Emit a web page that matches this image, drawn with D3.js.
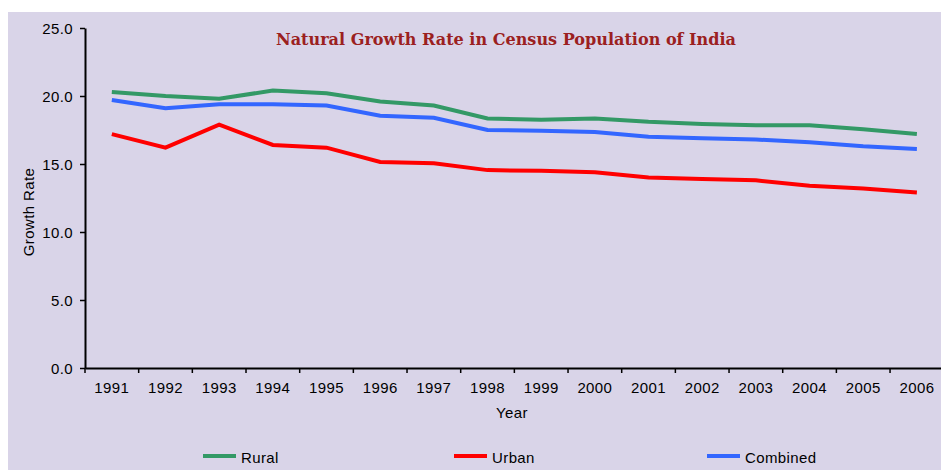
<!DOCTYPE html>
<html>
<head>
<meta charset="utf-8">
<script src="https://cdn.jsdelivr.net/npm/d3@7/dist/d3.min.js"></script>
<style>
html,body{margin:0;padding:0;background:#fff;overflow:hidden;}
svg{display:block;}
</style>
</head>
<body>
<svg id="chart" width="941" height="470"></svg>
<script>
const years = ["1991","1992","1993","1994","1995","1996","1997","1998","1999","2000","2001","2002","2003","2004","2005","2006"];
const rural = [20.3,20.0,19.8,20.4,20.2,19.6,19.3,18.35,18.25,18.35,18.1,17.95,17.85,17.85,17.55,17.2];
const urban = [17.2,16.2,17.9,16.4,16.2,15.15,15.05,14.55,14.5,14.4,14.0,13.9,13.8,13.4,13.2,12.9];
const combined = [19.7,19.1,19.4,19.4,19.3,18.55,18.4,17.5,17.45,17.35,17.0,16.9,16.8,16.6,16.3,16.1];
const yTicks = [0,5,10,15,20,25];
const seriesNames = ["Rural","Urban","Combined"];
const seriesColors = ["#339966","#ff0000","#3366ff"];

const svg = d3.select("#chart");
svg.append("rect").attr("x",8).attr("y",12).attr("width",941-8).attr("height",470-12).attr("fill","#d9d4e8");

const x0 = 85, step = 53.67;
const x = d3.scaleBand().domain(years).range([x0, x0 + step*years.length]).paddingInner(0).paddingOuter(0);
const y = d3.scaleLinear().domain([0,25]).range([368,28]);

const font = "Liberation Sans, Arial, sans-serif";
const fs = 15;
const ls = "0.4px";

// Y axis
const yAxis = svg.append("g").attr("transform",`translate(${x0},0)`)
  .call(d3.axisLeft(y).tickValues(yTicks).tickFormat(d3.format(".1f")).tickSize(5).tickSizeOuter(0));
yAxis.select(".domain").attr("stroke","#000").attr("stroke-width",2);
yAxis.selectAll(".tick line").attr("stroke","#000").attr("stroke-width",1.5);
yAxis.selectAll("text").attr("font-family",font).attr("font-size",fs).attr("letter-spacing",ls).attr("fill","#000").attr("x",-12).attr("dy","0.35em");

// X axis
const xAxis = svg.append("g").attr("transform","translate(0,368)")
  .call(d3.axisBottom(x).tickSize(0).tickSizeOuter(0));
xAxis.select(".domain").attr("stroke","#000").attr("stroke-width",2);
xAxis.selectAll("text").attr("font-family",font).attr("font-size",fs).attr("letter-spacing",ls).attr("fill","#000").attr("y",14).attr("dy","0.71em");
// tick marks at category boundaries
svg.append("g").selectAll("line").data(d3.range(years.length+1)).join("line")
  .attr("x1",i=>x0+i*step).attr("x2",i=>x0+i*step).attr("y1",368).attr("y2",373)
  .attr("stroke","#000").attr("stroke-width",1.5);

// Lines
const line = d3.line().x((d,i)=>x(years[i])+x.bandwidth()/2).y(d=>y(d));
[rural,urban,combined].forEach((s,k)=>{
  svg.append("path").datum(s).attr("d",line).attr("fill","none")
    .attr("stroke",seriesColors[k]).attr("stroke-width",4).attr("stroke-linejoin","miter");
});

// Title
svg.append("text").attr("x",506).attr("y",45).attr("text-anchor","middle")
  .attr("font-family","DejaVu Serif, serif").attr("font-weight","bold").attr("font-size",17)
  .attr("fill","#9b2020").attr("textLength",460).attr("lengthAdjust","spacingAndGlyphs")
  .text("Natural Growth Rate in Census Population of India");

// Axis titles
svg.append("text").attr("transform","translate(34,212) rotate(-90)").attr("text-anchor","middle")
  .attr("font-family",font).attr("font-size",fs).attr("letter-spacing",ls).attr("fill","#000").text("Growth Rate");
svg.append("text").attr("x",512).attr("y",418).attr("text-anchor","middle")
  .attr("font-family",font).attr("font-size",fs).attr("letter-spacing",ls).attr("fill","#000").text("Year");

// Legend
const legX = [203,454,707];
seriesNames.forEach((n,k)=>{
  svg.append("line").attr("x1",legX[k]).attr("x2",legX[k]+33).attr("y1",456).attr("y2",456)
    .attr("stroke",seriesColors[k]).attr("stroke-width",4);
  svg.append("text").attr("x",legX[k]+38).attr("y",463).attr("font-family",font).attr("font-size",fs)
    .attr("letter-spacing",ls).attr("fill","#000").text(n);
});
</script>
</body>
</html>
